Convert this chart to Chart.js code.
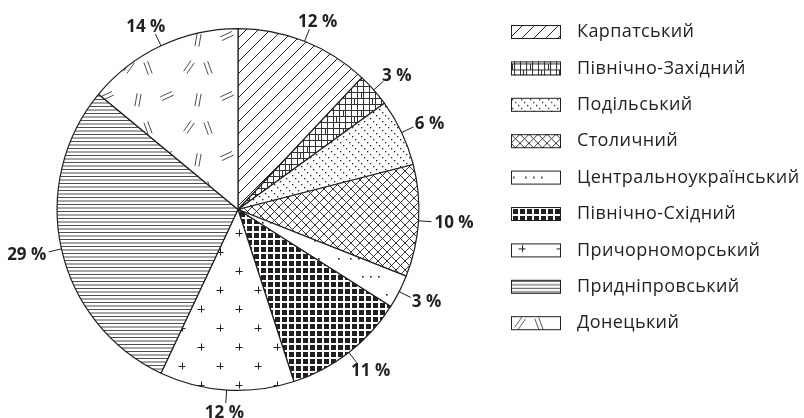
<!DOCTYPE html>
<html>
<head>
<meta charset="utf-8">
<script src="https://cdn.jsdelivr.net/npm/chart.js@4"></script>
<style>
  body { margin: 0; background: #fff; }
  canvas { display: block; }
</style>
</head>
<body>
<canvas id="pieChart" width="804" height="418"></canvas>
<script>
// regions and their shares, clockwise from the top
var regions = [
    'Карпатський',
    'Північно-Західний',
    'Подільський',
    'Столичний',
    'Центральноукраїнський',
    'Північно-Східний',
    'Причорноморський',
    'Придніпровський',
    'Донецький'
];
var shares = [12, 3, 6, 10, 3, 11, 12, 29, 14];

var INK = '#231f20';

function tile(w, h, draw) {
    var c = document.createElement('canvas');
    c.width = w;
    c.height = h;
    var g = c.getContext('2d');
    g.fillStyle = '#fff';
    g.fillRect(0, 0, w, h);
    g.strokeStyle = INK;
    g.fillStyle = INK;
    g.lineWidth = 1;
    draw(g, w, h);
    return g.createPattern(c, 'repeat');
}

function line(g, x1, y1, x2, y2) {
    g.beginPath();
    g.moveTo(x1, y1);
    g.lineTo(x2, y2);
    g.stroke();
}

function dash2(g, x, y, deg) {
    // two short parallel strokes
    var a = deg * Math.PI / 180, L = 6.5, d = 2;
    var cx = Math.cos(a), sy = Math.sin(a);
    var nx = -sy * d, ny = cx * d;
    line(g, x - cx * L + nx, y - sy * L + ny, x + cx * L + nx, y + sy * L + ny);
    line(g, x - cx * L - nx, y - sy * L - ny, x + cx * L - nx, y + sy * L - ny);
}

var patterns = [
    // Карпатський: ////
    tile(12, 12, function (g, w, h) {
        line(g, -1, h + 1, w + 1, -1);
        line(g, -1, 1, 1, -1);
        line(g, w - 1, h + 1, w + 1, h - 1);
    }),
    // Північно-Західний: rough grid
    tile(18, 18, function (g) {
        g.strokeStyle = '#333';
        for (var i = 0; i < 3; i++) {
            line(g, 0, i * 6 + 2.5, 18, i * 6 + 2.5);
            line(g, i * 6 + 3.5, 0, i * 6 + 3.5, 18);
        }
        line(g, 1.5, 3, 1.5, 8);
        line(g, 12.5, 9, 12.5, 15);
        line(g, 5, 14.5, 9, 14.5);
    }),
    // Подільський: dotted diagonals
    tile(9, 9, function (g) {
        g.fillRect(1, 1, 1.3, 1.3);
        g.fillRect(4, 4, 1.3, 1.3);
        g.fillRect(7, 7, 1.3, 1.3);
    }),
    // Столичний: crosshatch
    tile(9, 9, function (g, w, h) {
        g.lineWidth = 0.9;
        line(g, 0, 0, w, h);
        line(g, 0, h, w, 0);
    }),
    // Центральноукраїнський: sparse dots
    tile(48, 36, function (g) {
        [2, 14, 22, 30].forEach(function (x) { g.fillRect(x, 6, 1.6, 1.6); });
        [26, 34, 42].forEach(function (x) { g.fillRect(x, 24, 1.6, 1.6); });
    }),
    // Північно-Східний: black squares on white grid
    tile(7, 7, function (g) {
        g.fillRect(2, 2, 5, 5);
    }),
    // Причорноморський: staggered plus signs
    tile(38, 38, function (g) {
        g.lineWidth = 1;
        [[11, 5], [30, 24]].forEach(function (p) {
            line(g, p[0] - 3.5, p[1] + 0.5, p[0] + 3.5, p[1] + 0.5);
            line(g, p[0] + 0.5, p[1] - 3.5, p[0] + 0.5, p[1] + 3.5);
        });
    }),
    // Придніпровський: fine horizontal lines
    tile(7, 7, function (g) {
        g.strokeStyle = '#3a3a3a';
        g.lineWidth = 0.9;
        line(g, 0, 1.5, 7, 1.5);
        line(g, 0, 5, 7, 5);
    }),
    // Донецький: scattered double strokes
    tile(60, 60, function (g) {
        g.lineWidth = 0.8;
        dash2(g, 9, 7, 125);
        dash2(g, 28, 8, 70);
        dash2(g, 47, 36, -25);
        dash2(g, 18, 40, 100);
    })
];

var labelPlugin = {
    id: 'sliceLabels',
    afterDatasetsDraw: function (chart) {
        var ctx = chart.ctx;
        var arcs = chart.getDatasetMeta(0).data;
        ctx.save();
        ctx.font = 'bold 17px "Open Sans"';
        ctx.fillStyle = INK;
        ctx.strokeStyle = INK;
        ctx.lineWidth = 1;
        ctx.textAlign = 'center';
        ctx.textBaseline = 'middle';
        arcs.forEach(function (arc, i) {
            var p = arc.getProps(['x', 'y', 'startAngle', 'endAngle', 'outerRadius'], true);
            var mid = (p.startAngle + p.endAngle) / 2;
            var c = Math.cos(mid), s = Math.sin(mid);
            var r0 = p.outerRadius, r1 = p.outerRadius + 13;
            ctx.beginPath();
            ctx.moveTo(p.x + c * r0, p.y + s * r0);
            ctx.lineTo(p.x + c * r1, p.y + s * r1);
            ctx.stroke();
            var text = shares[i] + ' %';
            var w = ctx.measureText(text).width;
            var tx = p.x + c * r1 + c * (w / 2 + 3);
            var ty = p.y + s * r1 + s * 9;
            ctx.fillText(text, tx, ty + 1);
        });
        ctx.restore();
    }
};

var legendPlugin = {
    id: 'patternLegend',
    afterDraw: function (chart) {
        var ctx = chart.ctx;
        ctx.save();
        ctx.font = '18px "Open Sans"';
        if ('letterSpacing' in ctx) ctx.letterSpacing = '0.4px';
        ctx.textBaseline = 'middle';
        ctx.textAlign = 'left';
        regions.forEach(function (name, i) {
            var cy = 32 + i * 36.4;
            ctx.save();
            ctx.translate(511, cy - 7);
            ctx.fillStyle = patterns[i];
            ctx.fillRect(0, 0, 50, 14);
            ctx.strokeStyle = INK;
            ctx.lineWidth = 1;
            ctx.strokeRect(0.5, 0.5, 49, 13);
            ctx.restore();
            ctx.fillStyle = INK;
            ctx.fillText(name, 577, cy);
        });
        ctx.restore();
    }
};

var ctx = document.getElementById('pieChart').getContext('2d');
var myPieChart = new Chart(ctx, {
    type: 'pie',
    data: {
        labels: regions,
        datasets: [{
            data: shares,
            backgroundColor: patterns,
            borderColor: INK,
            borderWidth: 1.2
        }]
    },
    options: {
        responsive: false,
        animation: false,
        layout: {
            padding: { left: 56, top: 28, bottom: 27, right: 384 }
        },
        plugins: {
            legend: { display: false },
            tooltip: { enabled: false }
        }
    },
    plugins: [labelPlugin, legendPlugin]
});
</script>
</body>
</html>
